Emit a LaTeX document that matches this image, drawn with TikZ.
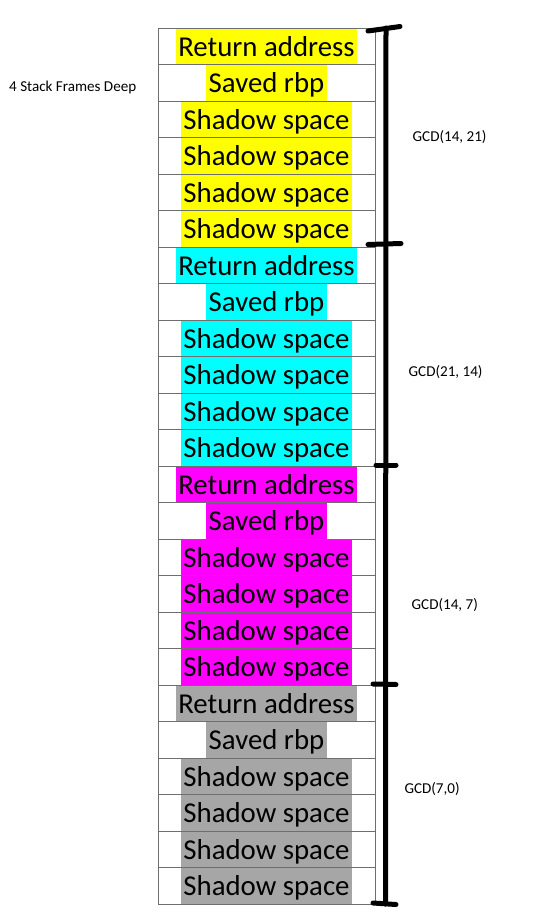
\documentclass[tikz,border=0pt]{standalone}
\usepackage{fontspec}
\setmainfont{Carlito}
\definecolor{hy}{HTML}{FFFF00}
\definecolor{hc}{HTML}{00FFFF}
\definecolor{hm}{HTML}{FF00FF}
\definecolor{hg}{HTML}{A6A6A6}
\definecolor{rowline}{HTML}{6E6E6E}
\begin{document}
\begin{tikzpicture}[x=1pt,y=-1pt,
  hl/.style={fill=#1, inner xsep=2.5pt, inner ysep=1pt, text height=26.7pt, text depth=7.8pt,
    font=\fontsize{28.8}{34}\selectfont},
  rowbox/.style={draw=rowline, line width=0.9pt, minimum width=217pt, minimum height=36.5pt, inner sep=0pt},
  bar/.style={line width=5pt, line cap=round},
  lbl/.style={anchor=base west, inner sep=0pt, font=\fontsize{15.1}{17}\selectfont}]
\useasboundingbox (0,0) rectangle (541,924);
\foreach \c [count=\f from 0] in {hy,hc,hm,hg} {
  \foreach \t [count=\k from 0] in {Return address,Saved rbp,Shadow space,Shadow space,Shadow space,Shadow space} {
    \pgfmathsetmacro\yc{28.3+36.5*(\f*6+\k)+18.25}
    \node[hl=\c] (t\f-\k) at (266.5,\yc) {\t};
  }
}
\foreach \f in {0,...,3} {
  \foreach \k in {0,...,5} {
    \node[rowbox] (r\f-\k) at (t\f-\k.center) {};
  }
}
% bracket
\coordinate (b0) at (386,28);
\coordinate (b4) at (385.5,904);
\draw[bar] (b0) -- (b4);
\coordinate (k0a) at (368,31); \coordinate (k0b) at (400,26.5);
\coordinate (k1a) at (368,244.5); \coordinate (k1b) at (401,243.5);
\coordinate (k2a) at (376,465); \coordinate (k2b) at (396,465);
\coordinate (k3a) at (373,684); \coordinate (k3b) at (396,684.5);
\coordinate (k4a) at (373,903); \coordinate (k4b) at (396,904.5);
\foreach \i in {0,...,4} { \draw[bar] (k\i a) -- (k\i b); }
% labels
\node[lbl] (deep) at (9,91.7) {4 Stack Frames Deep};
\node[lbl] (g1) at (412.5,141.7) {GCD(14, 21)};
\node[lbl] (g2) at (408.5,376) {GCD(21, 14)};
\node[lbl] (g3) at (411.5,609.5) {GCD(14, 7)};
\node[lbl] (g4) at (404.3,793.3) {GCD(7,0)};
\end{tikzpicture}
\end{document}
